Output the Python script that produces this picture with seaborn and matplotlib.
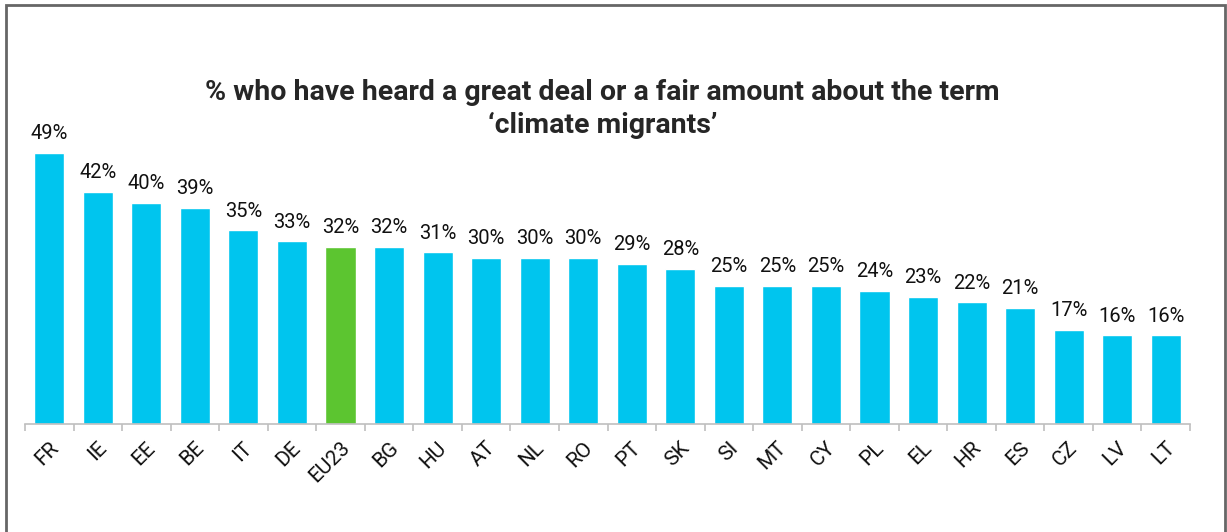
import matplotlib
matplotlib.use("Agg")
import matplotlib.pyplot as plt
import matplotlib.transforms as mtransforms
import seaborn as sns
import numpy as np
from matplotlib.patches import Rectangle

# data
countries = ["FR", "IE", "EE", "BE", "IT", "DE", "EU23", "BG", "HU", "AT", "NL", "RO",
             "PT", "SK", "SI", "MT", "CY", "PL", "EL", "HR", "ES", "CZ", "LV", "LT"]
values = [49, 42, 40, 39, 35, 33, 32, 32, 31, 30, 30, 30,
          29, 28, 25, 25, 25, 24, 23, 22, 21, 17, 16, 16]
highlight = "EU23"

cyan = "#00C5EE"
green = "#5CC530"
colors = [green if c == highlight else cyan for c in countries]

sns.set_style("white")
plt.rcParams["font.family"] = ["Roboto", "DejaVu Sans"]

fig = plt.figure(figsize=(12.27, 5.32), dpi=100)
ax = fig.add_axes([25 / 1227, 108 / 532, (1190 - 25) / 1227, (424 - 92) / 532])

sns.barplot(x=countries, y=values, hue=countries, palette=colors, legend=False,
            width=0.62, saturation=1, ax=ax)

ax.set_ylim(0, 60)
ax.set_xlim(-0.5, len(countries) - 0.5)
ax.set_xlabel("")
ax.set_ylabel("")
ax.set_yticks([])
for s in ["top", "right", "left"]:
    ax.spines[s].set_visible(False)
ax.spines["bottom"].set_color("#BFBFBF")
ax.spines["bottom"].set_linewidth(1.2)

# ticks between bars, labels under bars
ax.set_xticks(np.arange(len(countries)))
ax.set_xticklabels(countries, rotation=45, ha="right", va="center",
                   rotation_mode="anchor", fontsize=15, color="#111111")
ax.tick_params(axis="x", which="major", length=0, pad=15)
shift = mtransforms.ScaledTranslation(6 / 100, 0, fig.dpi_scale_trans)
for lbl in ax.get_xticklabels():
    lbl.set_transform(lbl.get_transform() + shift)
ax.set_xticks(np.arange(len(countries) + 1) - 0.5, minor=True)
ax.tick_params(axis="x", which="minor", length=5, color="#BFBFBF", width=1.2, bottom=True)

for i, v in enumerate(values):
    ax.annotate(f"{v}%", (i, v), xytext=(0, 7), textcoords="offset points",
                ha="center", va="bottom", fontsize=14.5, color="#111111")

fig.text(0.491, 0.795, "% who have heard a great deal or a fair amount about the term\n\u2018climate migrants\u2019",
         ha="center", va="center", fontsize=20.5, fontweight="bold", linespacing=1.25)

# frame around the chart
fig.patches.append(Rectangle((6 / 1227, -0.05), (1225 - 6) / 1227, 1.05 - 5 / 532,
                             transform=fig.transFigure, fill=False,
                             edgecolor="#666666", linewidth=2))

fig.savefig("out.png", dpi=100)
